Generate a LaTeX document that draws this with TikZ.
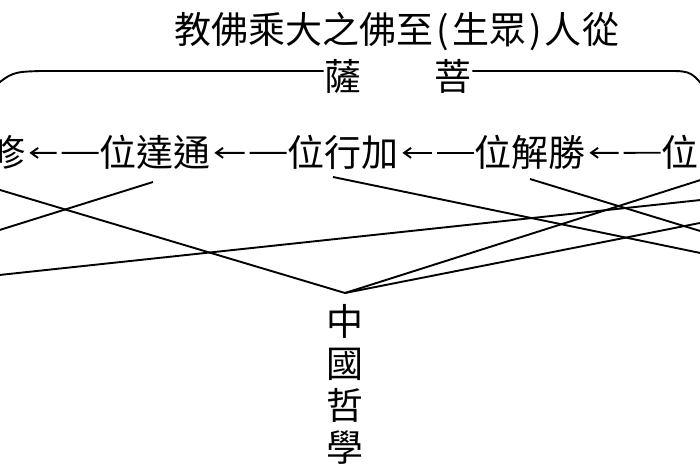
\documentclass[tikz,border=0pt]{standalone}
\usepackage{fontspec}
\newfontfamily\cjk{Noto Sans CJK TC}
\usetikzlibrary{arrows.meta}
\begin{document}
\begin{tikzpicture}[x=1pt, y=-1pt, line width=1.9pt,
zi/.style={inner sep=0pt, font=\cjk\fontsize{37}{42}\selectfont},
link/.style={-{Straight Barb[length=7pt,width=10pt]}, shorten >=3pt, dash pattern=on 37pt off 5pt on 90pt}]
\useasboundingbox (0,0) rectangle (700,470);
\clip (0,0) rectangle (700,470);
\node[zi, anchor=base] (tit) at (397,44){教佛乘大之佛至\hspace{3pt}(\hspace{3pt}生眾\hspace{3pt})\hspace{3pt}人從};
\node[zi, anchor=base] (sa) at (343,91){薩};
\node[zi, anchor=base] (pu) at (453,91){菩};
\node[zi, anchor=base] (wei0) at (7,167){修};
\node[zi, anchor=base] (wei1) at (155,167){位達通};
\node[zi, anchor=base] (wei2) at (343,167){位行加};
\node[zi, anchor=base] (wei3) at (530,167){位解勝};
\node[zi, anchor=base] (wei4) at (680,167){位};
\node[zi, anchor=north, align=center] (zg) at (345,303){中\\國\\哲\\學};
\coordinate (apex) at ([yshift=10pt]zg.north);
\coordinate (b0) at (-10,90);
\coordinate (b1) at (40,71);
\coordinate (b2) at (668,71);
\coordinate (b3) at (712,98);
\draw[](b0) .. controls (12,72) .. (b1) -- (sa.west |- b1);
\draw[](pu.east |- b2) -- (b2) .. controls (692,71) .. (b3);
\draw[link](wei1) -- (wei0);
\draw[link](wei2) -- (wei1);
\draw[link](wei3) -- (wei2);
\draw[link](wei4) -- (wei3);
\coordinate (e0) at (-10,187);
\coordinate (e1) at (-10,233);
\coordinate (e2) at (-10,276);
\coordinate (e3) at (710,199);
\coordinate (e4) at (710,255);
\coordinate (e5) at (710,234);
\coordinate (e6) at (710,177);
\coordinate (e7) at (710,221);
\draw[](e0) -- (apex);
\draw[](e1) -- ([xshift=-2pt,yshift=-15pt]wei1.base);
\draw[](e2) -- (e3);
\draw[]([xshift=-10pt,yshift=-10pt]wei2.base) -- (e4);
\draw[]([yshift=-12pt]wei3.base) -- (e5);
\draw[](apex) -- (e6);
\draw[](apex) -- (e7);
\end{tikzpicture}
\end{document}
